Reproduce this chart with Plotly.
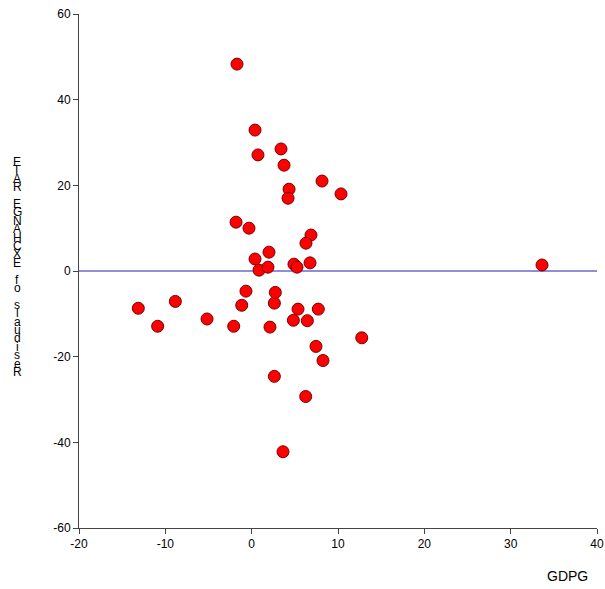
import plotly.graph_objects as go

# Data
gdpg = [-1.70, 0.39, 0.73, 3.40, 3.75, 4.33, 4.21, 8.15, 10.35, -1.81, -0.31,
        6.87, 6.29, 2.01, 0.39, 0.85, 1.89, 4.90, 5.25, 6.76, 33.63,
        -13.13, -10.89, -8.84, -5.17, -2.08, -1.15, -0.66, 2.12, 2.63, 2.74,
        2.63, 3.63, 4.83, 5.37, 6.26, 6.45, 7.45, 7.72, 8.26, 12.75]
residuals = [48.3, 32.9, 27.1, 28.5, 24.7, 19.1, 17.0, 21.0, 18.0, 11.4, 10.0,
             8.4, 6.5, 4.4, 2.8, 0.2, 0.9, 1.6, 0.9, 1.9, 1.4,
             -8.7, -12.9, -7.1, -11.2, -12.9, -8.0, -4.7, -13.1, -7.5, -5.0,
             -24.6, -42.2, -11.5, -8.9, -29.3, -11.6, -17.6, -8.9, -20.9, -15.6]
x_ticks = [-20, -10, 0, 10, 20, 30, 40]
x_ticklabels = ["-20", "-10", "0", "10", "20", "30", "40"]
y_ticks = [-60, -40, -20, 0, 20, 40, 60]
y_ticklabels = ["-60", "-40", "-20", "0", "20", "40", "60"]
x_title = "GDPG"
y_title_chars = list("ETAR EGNAHCXE fo slaudiseR")

W, H = 605, 589
ml, mr, mt, mb = 79, 8, 14, 61

fig = go.Figure()
fig.add_trace(go.Scatter(
    x=gdpg, y=residuals, mode="markers",
    marker=dict(size=12, color="#ff0000", line=dict(color="#7a0000", width=1)),
    showlegend=False, hoverinfo="x+y"))

fig.add_shape(type="line", xref="x", yref="y", x0=-20, x1=40, y0=0, y1=0,
              line=dict(color="#6a6acc", width=1.5), layer="below")

axis_common = dict(showgrid=False, zeroline=False, showline=True,
                   linecolor="#444444", linewidth=1, ticks="outside",
                   ticklen=5, tickcolor="#444444", automargin=False,
                   tickfont=dict(family="Arial, Liberation Sans", size=12, color="#000"))
fig.update_xaxes(range=[-20, 40], tickvals=x_ticks, ticktext=x_ticklabels, **axis_common)
fig.update_yaxes(range=[-60, 60], tickvals=y_ticks, ticktext=y_ticklabels, **axis_common)

annotations = [dict(text=x_title, xref="paper", yref="paper",
                    x=(567 - ml) / (W - ml - mr), y=-(576 - (H - mb)) / (H - mt - mb),
                    showarrow=False, xanchor="center", yanchor="middle",
                    font=dict(family="Arial, Liberation Sans", size=14, color="#000"))]
plot_h = H - mt - mb
start, step = 162, 8.4
for i, ch in enumerate(y_title_chars):
    if ch == " ":
        continue
    py = start + i * step
    annotations.append(dict(text=ch, xref="paper", yref="paper",
                            x=(17 - ml) / (W - ml - mr), y=((H - mb) - py) / plot_h,
                            showarrow=False, xanchor="center", yanchor="middle",
                            font=dict(family="Arial, Liberation Sans", size=12, color="#000")))

fig.update_layout(width=W, height=H, margin=dict(l=ml, r=mr, t=mt, b=mb, autoexpand=False),
                  plot_bgcolor="white", paper_bgcolor="white",
                  annotations=annotations)

fig.write_html("out.html", config={"displayModeBar": False},
               post_script="document.body.style.margin='0px';document.body.style.overflow='hidden';")
